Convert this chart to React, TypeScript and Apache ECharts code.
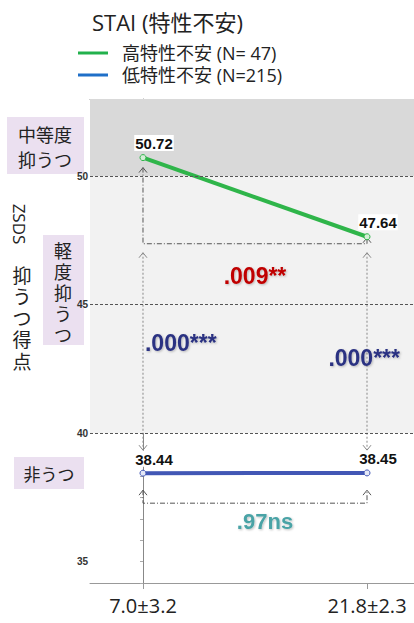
import React, { useEffect, useRef } from "react";
import * as echarts from "echarts";

const categories = ["7.0±3.2", "21.8±2.3"];
const highScores = [50.72, 47.64];
const lowScores = [38.44, 38.45];
const seriesNames = ["高特性不安 (N= 47)", "低特性不安 (N=215)"];
const legendTitle = "STAI (特性不安)";
const yTickLabels = [35, 40, 45, 50];
const cutoffs = [40, 45, 50];
const bandModerate = [50, 53];
const bandMild = [40, 50];
const pTexts = [".009**", ".000***", ".000***", ".97ns"];
const severityLabels = ["中等度\n抑うつ", "軽度抑うつ", "非うつ"];
const axisTitleParts = ["ZSDS", "抑うつ得点"];

const JP = "'Noto Sans CJK JP', 'Open Sans', sans-serif";
const LAT = "'Open Sans', 'Noto Sans CJK JP', sans-serif";
const ARIAL = "'Liberation Sans', Arial, sans-serif";

const HIGH_COLOR = "#2fb54a";
const LOW_COLOR = "#4257b5";
const LEGEND_COLORS = ["#22b14c", "#1f6fc8"];

function chevron(x: number, y: number, up: boolean, color: string) {
  const d = up ? 5 : -5;
  return {
    type: "polyline",
    shape: { points: [[x - 4, y + d], [x, y], [x + 4, y + d]] },
    style: { stroke: color, lineWidth: 1, fill: null },
  };
}

function verticalChars(s: string, cx: number, top: number, step: number, size: number) {
  return s.split("").map((ch, i) => ({
    type: "text",
    style: {
      text: ch,
      x: cx,
      y: top + i * step,
      textAlign: "center",
      textVerticalAlign: "top",
      font: `${size}px ${JP}`,
      lineHeight: step - 1.5,
      fill: "#222",
    },
  }));
}

export default function App() {
  const ref = useRef<HTMLDivElement>(null);
  useEffect(() => {
    if (!ref.current) return;
    const chart = echarts.init(ref.current, null, { renderer: "svg" });
    const dashDot = [5, 2, 1, 2];
    const pShadow = { textShadowColor: "rgba(0,0,0,0.25)", textShadowBlur: 2, textShadowOffsetX: 1, textShadowOffsetY: 1 };
    const dataLabel = {
      show: true,
      position: "top",
      distance: 3,
      offset: [11, 0],
      formatter: (p: any) => p.value[1].toFixed(2),
      fontSize: 15,
      fontWeight: "bold",
      color: "#111",
      fontFamily: ARIAL,
      backgroundColor: "#fff",
      padding: [1, 1, 0, 1],
    };
    const option: any = {
      animation: false,
      title: {
        text: legendTitle,
        left: 87,
        top: 6,
        textStyle: { fontSize: 22, fontWeight: "normal", color: "#222", fontFamily: LAT },
      },
      legend: {
        orient: "vertical",
        left: 73,
        top: 39,
        icon: "rect",
        itemWidth: 30,
        itemHeight: 3,
        itemGap: 4,
        formatter: (name: string) => `{t|${name}}`,
        textStyle: {
          rich: {
            t: { fontSize: 18, color: "#222", fontFamily: LAT, lineHeight: 22, padding: [0, 0, 0, 9] },
          },
        },
        data: seriesNames,
      },
      grid: { left: 90, right: 0, top: 99, bottom: 40 },
      xAxis: [
        {
          type: "value",
          min: -0.2366,
          max: 1.2098,
          splitLine: { show: false },
          axisLine: { show: true, lineStyle: { color: "#999", width: 1 } },
          axisTick: { show: true, customValues: [0, 1], length: 6, lineStyle: { color: "#999" } },
          axisLabel: {
            customValues: [0, 1],
            formatter: (v: number) => categories[Math.round(v)] ?? "",
            fontSize: 20,
            color: "#222",
            margin: 12,
            fontFamily: LAT,
          },
        },
        {
          type: "value",
          position: "top",
          min: -0.2366,
          max: 1.2098,
          splitLine: { show: false },
          axisLine: { show: true, lineStyle: { color: "#888", width: 1 } },
          axisTick: { show: false },
          axisLabel: { show: false },
        },
      ],
      yAxis: {
        type: "value",
        min: 205 / 6,
        max: 53,
        interval: 5 / 6,
        splitLine: { show: false },
        axisLine: { show: true, lineStyle: { color: "#888", width: 1 } },
        axisTick: { show: true, length: 3, lineStyle: { color: "#aaa" } },
        axisLabel: {
          margin: 2,
          fontSize: 10,
          fontWeight: "bold",
          color: "#333",
          fontFamily: "'Liberation Sans Narrow', 'Liberation Sans', sans-serif",
          formatter: (v: number) => {
            const r = Math.round(v);
            return Math.abs(v - r) < 0.01 && yTickLabels.includes(r) ? String(r) : "";
          },
        },
      },
      series: [
        // legend entries (colour of the legend keys)
        { name: seriesNames[0], type: "line", data: [], color: LEGEND_COLORS[0], lineStyle: { color: LEGEND_COLORS[0] }, itemStyle: { color: LEGEND_COLORS[0] } },
        { name: seriesNames[1], type: "line", data: [], color: LEGEND_COLORS[1], lineStyle: { color: LEGEND_COLORS[1] }, itemStyle: { color: LEGEND_COLORS[1] } },
        {
          name: "high",
          type: "line",
          data: highScores.map((v, i) => [i, v]),
          color: HIGH_COLOR,
          lineStyle: { width: 4, color: HIGH_COLOR },
          symbol: "circle",
          symbolSize: 6,
          itemStyle: { color: "#d6eed8", borderColor: HIGH_COLOR, borderWidth: 1 },
          label: dataLabel,
          z: 3,
          markArea: {
            silent: true,
            data: [
              [
                { yAxis: bandModerate[0], itemStyle: { color: "#d9d9d9" } },
                { yAxis: bandModerate[1] },
              ],
              [
                { yAxis: bandMild[0], itemStyle: { color: "#f2f2f2" } },
                { yAxis: bandMild[1] },
              ],
            ],
          },
          markLine: {
            silent: true,
            symbol: "none",
            label: { show: false },
            lineStyle: { type: [3, 2], color: "#555", width: 1 },
            data: cutoffs.map((v) => ({ yAxis: v })),
          },
        },
        {
          name: "low",
          type: "line",
          data: lowScores.map((v, i) => [i, v]),
          color: LOW_COLOR,
          lineStyle: { width: 4, color: LOW_COLOR },
          symbol: "circle",
          symbolSize: 6,
          itemStyle: { color: "#e4e8f6", borderColor: LOW_COLOR, borderWidth: 1 },
          label: dataLabel,
          z: 3,
        },
        {
          type: "custom",
          name: "annotations",
          silent: true,
          z: 2,
          data: [[0, 45]],
          renderItem: (_params: any, api: any) => {
            const h0 = api.coord([0, highScores[0]]);
            const h1 = api.coord([1, highScores[1]]);
            const l0 = api.coord([0, lowScores[0]]);
            const l1 = api.coord([1, lowScores[1]]);
            const dark = "#555";
            const gray = "#888";
            const bracketY = h1[1] + 7;
            const vTop = h1[1] + 16;
            const vBot = l0[1] - 23;
            const mid = (vTop + vBot) / 2;
            const lowTip = l0[1] + 17;
            const lowY = l0[1] + 30;
            const pFont = `bold 23px ${ARIAL}`;
            return {
              type: "group",
              children: [
                {
                  type: "polyline",
                  shape: {
                    points: [
                      [h0[0], h0[1] + 10],
                      [h0[0], bracketY],
                      [h1[0], bracketY],
                      [h1[0], h1[1] + 1],
                    ],
                  },
                  style: { stroke: dark, lineWidth: 1, lineDash: dashDot, fill: null },
                },
                chevron(h0[0], h0[1] + 10, true, dark),
                chevron(h1[0], h1[1] + 1, true, dark),
                {
                  type: "text",
                  style: {
                    text: pTexts[0],
                    x: (h0[0] + h1[0]) / 2,
                    y: bracketY + 32,
                    textAlign: "center",
                    textVerticalAlign: "middle",
                    font: pFont,
                    fill: "#c00000",
                    ...pShadow,
                  },
                },
                {
                  type: "line",
                  shape: { x1: h0[0], y1: vTop, x2: h0[0], y2: vBot },
                  style: { stroke: gray, lineWidth: 1, lineDash: [2, 2] },
                },
                {
                  type: "line",
                  shape: { x1: h1[0], y1: vTop, x2: h1[0], y2: vBot },
                  style: { stroke: gray, lineWidth: 1, lineDash: [2, 2] },
                },
                chevron(h0[0], vTop, true, gray),
                chevron(h1[0], vTop, true, gray),
                chevron(l0[0], vBot, false, gray),
                chevron(l1[0], vBot, false, gray),
                {
                  type: "text",
                  style: {
                    text: pTexts[1],
                    x: h0[0] + 2,
                    y: mid - 8,
                    textAlign: "left",
                    textVerticalAlign: "middle",
                    font: pFont,
                    fill: "#2b3282",
                    ...pShadow,
                  },
                },
                {
                  type: "text",
                  style: {
                    text: pTexts[2],
                    x: h1[0] + 33,
                    y: mid + 7,
                    textAlign: "right",
                    textVerticalAlign: "middle",
                    font: pFont,
                    fill: "#2b3282",
                    ...pShadow,
                  },
                },
                {
                  type: "polyline",
                  shape: {
                    points: [
                      [l0[0], lowTip],
                      [l0[0], lowY],
                      [l1[0], lowY],
                      [l1[0], lowTip],
                    ],
                  },
                  style: { stroke: dark, lineWidth: 1, lineDash: dashDot, fill: null },
                },
                chevron(l0[0], lowTip, true, dark),
                chevron(l1[0], lowTip, true, dark),
                {
                  type: "text",
                  style: {
                    text: pTexts[3],
                    x: (l0[0] + l1[0]) / 2 + 10,
                    y: lowY + 18,
                    textAlign: "center",
                    textVerticalAlign: "middle",
                    font: `bold 22px ${ARIAL}`,
                    fill: "#4aa3a6",
                    ...pShadow,
                  },
                },
              ],
            };
          },
        },
      ],
      graphic: [
        { type: "rect", shape: { x: 7, y: 117, width: 77, height: 57 }, style: { fill: "#ebe0f0" } },
        {
          type: "text",
          style: {
            text: severityLabels[0].split("\n")[0],
            x: 45,
            y: 134,
            textAlign: "center",
            textVerticalAlign: "middle",
            font: `18px ${JP}`,
            fill: "#222",
          },
        },
        {
          type: "text",
          style: {
            text: severityLabels[0].split("\n")[1],
            x: 45,
            y: 159,
            textAlign: "center",
            textVerticalAlign: "middle",
            font: `18px ${JP}`,
            fill: "#222",
          },
        },
        { type: "rect", shape: { x: 43, y: 235, width: 41, height: 110 }, style: { fill: "#ebe0f0" } },
        ...verticalChars(severityLabels[1], 63, 240, 21, 18),
        { type: "rect", shape: { x: 14, y: 457, width: 70, height: 32 }, style: { fill: "#ebe0f0" } },
        {
          type: "text",
          style: {
            text: severityLabels[2],
            x: 49,
            y: 473,
            textAlign: "center",
            textVerticalAlign: "middle",
            font: `17px ${JP}`,
            fill: "#222",
          },
        },
        {
          type: "text",
          x: 19,
          y: 224,
          rotation: -Math.PI / 2,
          style: {
            text: axisTitleParts[0],
            x: 0,
            y: 0,
            textAlign: "center",
            textVerticalAlign: "middle",
            font: `17px ${LAT}`,
            fill: "#222",
          },
        },
        ...verticalChars(axisTitleParts[1], 22, 264, 21.5, 19),
      ],
    };
    chart.setOption(option);
    return () => chart.dispose();
  }, []);
  return (
    <div
      ref={ref}
      style={{ position: "fixed", left: 0, top: 0, width: 414, height: 623, background: "#fff" }}
    />
  );
}
